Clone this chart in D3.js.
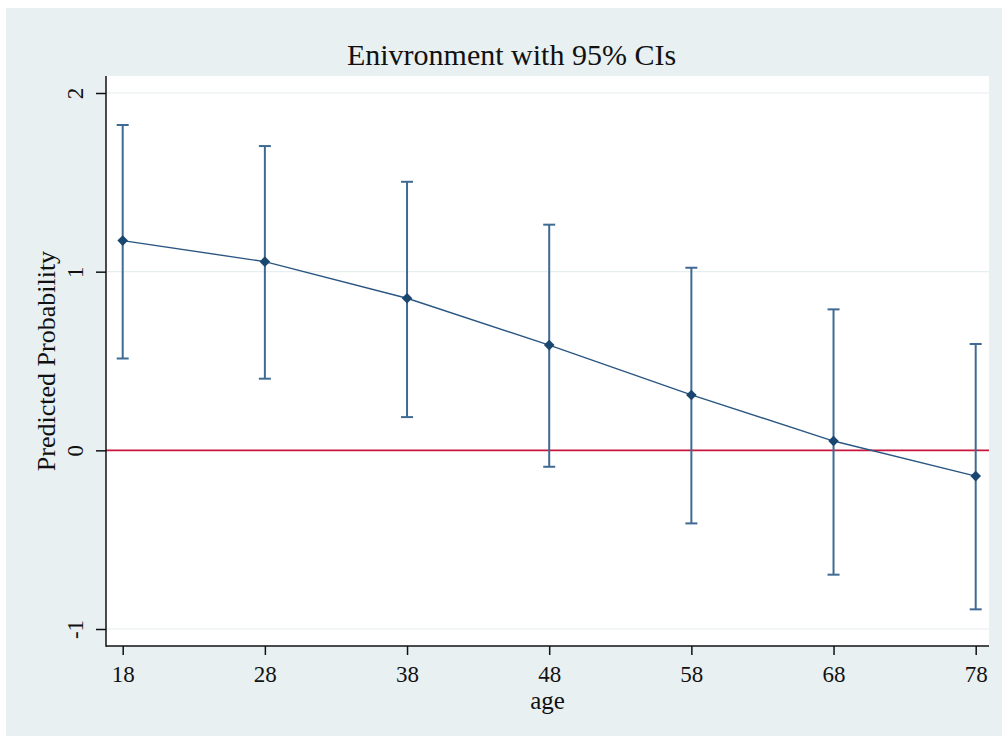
<!DOCTYPE html>
<html>
<head>
<meta charset="utf-8">
<script src="https://cdn.jsdelivr.net/npm/d3@7"></script>
<style>
  body { margin: 0; background: #fff; }
  svg { display: block; }
  text { font-family: "Liberation Serif", "Times New Roman", serif; fill: #111; }
</style>
</head>
<body>
<svg id="svg" width="1002" height="736"></svg>
<script>
// data
var ages = [18, 28, 38, 48, 58, 68, 78];
var predicted = [1.174, 1.056, 0.851, 0.589, 0.310, 0.052, -0.144];
var upper = [1.821, 1.703, 1.503, 1.263, 1.022, 0.789, 0.595];
var lower = [0.514, 0.401, 0.186, -0.092, -0.409, -0.696, -0.890];
var yTicks = [-1, 0, 1, 2];
var xTicks = [18, 28, 38, 48, 58, 68, 78];

var svg = d3.select("#svg");

// plot box
var plotL = 106, plotR = 989, plotT = 76, plotB = 646;

// outer graph region
svg.append("rect").attr("x", 6).attr("y", 8).attr("width", 996).attr("height", 728).attr("fill", "#e8f0f2");
svg.append("rect").attr("x", plotL).attr("y", plotT).attr("width", plotR - plotL).attr("height", plotB - plotT).attr("fill", "#fff");

var x = d3.scaleLinear().domain([18, 78]).range([122.7, 975.7]);
var y = d3.scaleLinear().domain([-1, 2]).range([629, 93]);

// gridlines
svg.append("g").selectAll("line").data(yTicks).enter().append("line")
  .attr("x1", plotL).attr("x2", plotR)
  .attr("y1", function(d) { return y(d); }).attr("y2", function(d) { return y(d); })
  .attr("stroke", "#e6eef0").attr("stroke-width", 1.2);

// zero reference line
svg.append("line")
  .attr("x1", plotL).attr("x2", plotR).attr("y1", y(0)).attr("y2", y(0))
  .attr("stroke", "#c8163f").attr("stroke-width", 1.6);

// error bars
var bars = svg.append("g").attr("stroke", "#3f6a93").attr("stroke-width", 2);
ages.forEach(function(a, i) {
  bars.append("line").attr("x1", x(a)).attr("x2", x(a)).attr("y1", y(upper[i])).attr("y2", y(lower[i]));
  bars.append("line").attr("x1", x(a) - 6).attr("x2", x(a) + 6).attr("y1", y(upper[i])).attr("y2", y(upper[i]));
  bars.append("line").attr("x1", x(a) - 6).attr("x2", x(a) + 6).attr("y1", y(lower[i])).attr("y2", y(lower[i]));
});

// connected line
var line = d3.line().x(function(d, i) { return x(ages[i]); }).y(function(d) { return y(d); });
svg.append("path").datum(predicted).attr("d", line)
  .attr("fill", "none").attr("stroke", "#2a5682").attr("stroke-width", 1.4);

// diamond markers
svg.append("g").selectAll("path").data(predicted).enter().append("path")
  .attr("d", d3.symbol().type(d3.symbolDiamond2).size(72))
  .attr("transform", function(d, i) { return "translate(" + x(ages[i]) + "," + y(d) + ")"; })
  .attr("fill", "#1a476f");

// y axis
var yAxis = svg.append("g").attr("transform", "translate(" + plotL + ",0)")
  .call(d3.axisLeft(y).tickValues(yTicks).tickSize(10).tickFormat(String));
yAxis.select(".domain").remove();
yAxis.selectAll(".tick line").attr("stroke", "#111").attr("stroke-width", 1.5);
yAxis.selectAll(".tick text")
  .attr("x", 0).attr("dy", 0)
  .attr("transform", "translate(-23,0) rotate(-90)")
  .attr("text-anchor", "middle")
  .style("font-size", "23px").style("font-family", "Liberation Serif, serif").attr("fill", "#111");

// x axis
var xAxis = svg.append("g").attr("transform", "translate(0," + plotB + ")")
  .call(d3.axisBottom(x).tickValues(xTicks).tickSize(9));
xAxis.select(".domain").remove();
xAxis.selectAll(".tick line").attr("stroke", "#111").attr("stroke-width", 1.5);
xAxis.selectAll(".tick text")
  .attr("y", 36).attr("dy", 0)
  .style("font-size", "23px").style("font-family", "Liberation Serif, serif").attr("fill", "#111");

// axis lines
svg.append("line").attr("x1", plotL).attr("x2", plotL).attr("y1", plotT).attr("y2", plotB + 0.75)
  .attr("stroke", "#111").attr("stroke-width", 1.5);
svg.append("line").attr("x1", plotL).attr("x2", plotR).attr("y1", plotB).attr("y2", plotB)
  .attr("stroke", "#111").attr("stroke-width", 1.5);

// titles
svg.append("text").attr("x", 511.5).attr("y", 65).attr("text-anchor", "middle")
  .style("font-size", "30px").text("Enivronment with 95% CIs");
svg.append("text").attr("x", (plotL + plotR) / 2).attr("y", 709).attr("text-anchor", "middle")
  .style("font-size", "25px").text("age");
svg.append("text").attr("transform", "translate(55," + (plotT + plotB) / 2 + ") rotate(-90)")
  .attr("text-anchor", "middle").style("font-size", "26px").text("Predicted Probability");
</script>
</body>
</html>
